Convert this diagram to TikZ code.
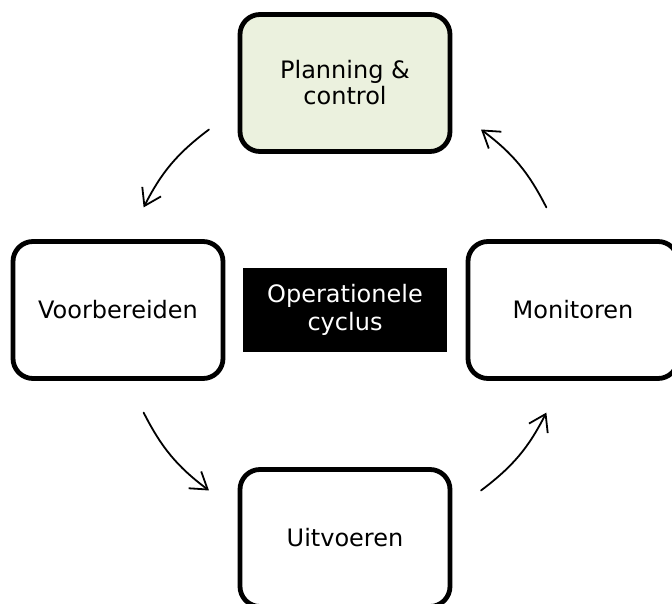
\documentclass[tikz,border=0pt]{standalone}
\usepackage{fontspec}
\setmainfont{DejaVu Sans}
\usepackage{tikz}
\usetikzlibrary{arrows.meta}
\tikzset{>={Straight Barb[length=16pt, width=21pt]}}
\definecolor{planfill}{HTML}{EBF1DE}
\tikzset{
    phase/.style={draw, line width=4.8pt, rounded corners=20pt, minimum width=210pt,
        minimum height=137pt, inner sep=0pt, align=center, font=\fontsize{24}{26}\selectfont},
    cyclebox/.style={fill=black, text=white, minimum width=203pt, minimum height=84pt,
        inner sep=0pt, align=center, font=\fontsize{24}{28}\selectfont},
    flow/.style={->, line width=1.8pt, line cap=round}
}

\begin{document}
\begin{tikzpicture}[x=1pt, y=1pt]
    \useasboundingbox (-345, -294) rectangle (327, 310);
    \clip (-345, -294) rectangle (327, 310);
    \node[phase, fill=planfill] (plan) at (0, 227) {Planning \&\\control};
    \node[phase] (prep) at (-227, 0) {Voorbereiden};
    \node[phase] (exec) at (0, -228) {Uitvoeren};
    \node[phase] (mon) at (228, 0) {Monitoren};
    \node[cyclebox] (cyc) at (0, 0) {Operationele\\cyclus};
    \coordinate (plan-out) at (127:226);
    \coordinate (prep-in) at (153:226);
    \coordinate (prep-out) at (207:226);
    \coordinate (exec-in) at (233:226);
    \coordinate (exec-out) at (307:226);
    \coordinate (mon-in) at (333:226);
    \coordinate (mon-out) at (27:226);
    \coordinate (plan-in) at (53:226);
    \draw[flow] (plan-out) to[bend right=13] (prep-in);
    \draw[flow] (prep-out) to[bend right=13] (exec-in);
    \draw[flow] (exec-out) to[bend right=13] (mon-in);
    \draw[flow] (mon-out) to[bend right=13] (plan-in);
\end{tikzpicture}
\end{document}
